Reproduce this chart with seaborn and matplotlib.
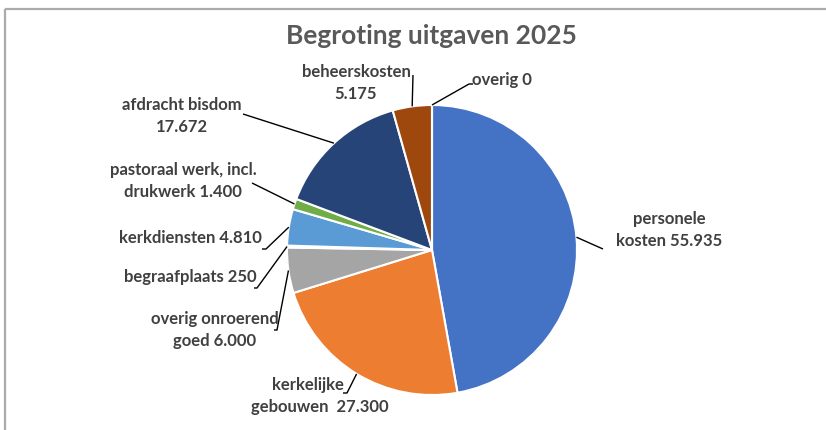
import matplotlib
matplotlib.use("Agg")
import numpy as np
import matplotlib.pyplot as plt
import seaborn as sns

# begroting uitgaven 2025 (bedragen in euro)
categories = ["personele kosten", "kerkelijke gebouwen", "overig onroerend goed",
              "begraafplaats", "kerkdiensten", "pastoraal werk, incl. drukwerk",
              "afdracht bisdom", "beheerskosten", "overig"]
amounts = [55935, 27300, 6000, 250, 4810, 1400, 17672, 5175, 0]
label_texts = ["personele\nkosten 55.935", "kerkelijke      \ngebouwen  27.300",
               "overig onroerend\ngoed 6.000", "begraafplaats 250",
               "kerkdiensten 4.810", "pastoraal werk, incl.\ndrukwerk 1.400",
               "afdracht bisdom\n17.672", "beheerskosten\n5.175", "overig 0"]
title = "Begroting uitgaven 2025"

colors = ["#4472C4", "#ED7D31", "#A5A5A5", "#FFC000", "#5B9BD5",
          "#70AD47", "#264478", "#9E480E", "#636363"]

W, H = 826, 430


def px(x, y):
    # pixel coords (y from top) -> data coords
    return x, H - y


# label placement: text centre and leader path (pixels, from the pie outwards)
label_pos = [(669, 230), (320, 396), (215, 330), (190, 277), (190, 238),
             (183, 181), (182, 116), (356, 83), (502, 80)]
leader_paths = [
    [(603, 249)],
    [(347, 393), (343, 393)],
    [(277, 330), (274, 330)],
    [(257, 288), (254, 288)],
    [(266, 249), (262, 249)],
    [(252, 183)],
    [(243, 114)],
    [(413, 75)],
    [(469, 84), (473, 84)],
]

sns.set_theme(style="white")
plt.rcParams["font.family"] = ["Lato", "DejaVu Sans"]

fig = plt.figure(figsize=(W / 100, H / 100), dpi=100)
ax = fig.add_axes([0, 0, 1, 1])

center = px(432, 250)
radius = 145
wedges, _ = ax.pie(amounts, colors=colors, startangle=90, counterclock=False,
                   center=center, radius=radius, frame=True,
                   wedgeprops=dict(edgecolor="white", linewidth=1.5))
ax.set_xlim(0, W)
ax.set_ylim(0, H)
ax.set_aspect("equal")
ax.axis("off")

for w, txt, pos, path in zip(wedges, label_texts, label_pos, leader_paths):
    mid = np.deg2rad((w.theta1 + w.theta2) / 2)
    start = (center[0] + radius * np.cos(mid), center[1] + radius * np.sin(mid))
    pts = [start] + [px(*p) for p in path]
    xs, ys = zip(*pts)
    ax.plot(xs, ys, color="black", lw=1.0, solid_capstyle="butt")
    ax.text(*px(*pos), txt, ha="center", va="center", fontsize=12,
            fontweight="bold", color="#404040", linespacing=1.4)

ax.text(*px(431, 36), title, ha="center", va="center", fontsize=19,
        fontweight="bold", color="#595959")

# frame of the original chart area
ax.add_patch(plt.Rectangle(px(5, 9), W, -H, fill=False, edgecolor="#ababab",
                           lw=1.6, clip_on=False))

fig.savefig("out.png", dpi=100)
